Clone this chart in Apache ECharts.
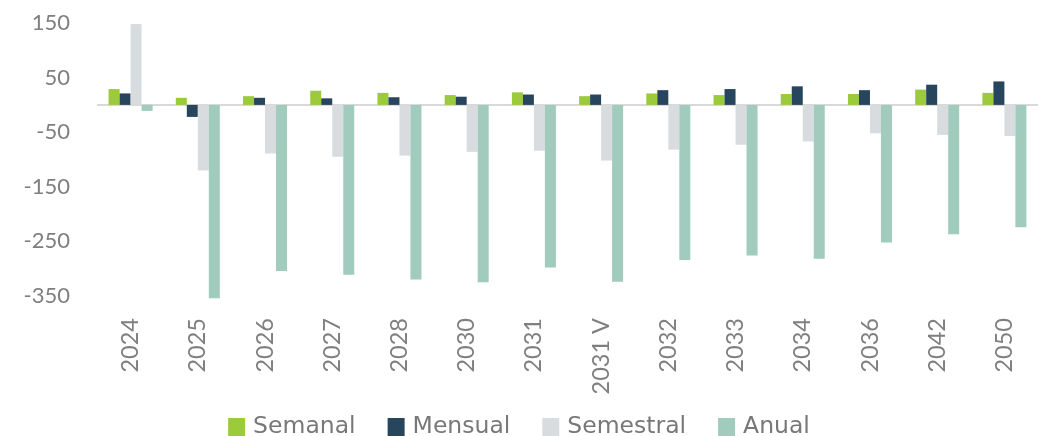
<!DOCTYPE html>
<html>
<head>
<meta charset="utf-8">
<script src="https://cdn.jsdelivr.net/npm/echarts@6/dist/echarts.min.js"></script>
<style>html,body{margin:0;padding:0;background:#fff}#c{width:1038px;height:436px}</style>
</head>
<body>
<div id="c"></div>
<script>
const categories = ["2024","2025","2026","2027","2028","2030","2031","2031 V","2032","2033","2034","2036","2042","2050"];
const semanal   = [29, 13, 16, 26, 22, 18, 23, 16, 21, 18, 20, 20, 28, 22];
const mensual   = [21, -22, 13, 12, 14, 15, 19, 19, 27, 29, 34, 27, 37, 43];
const semestral = [148, -120, -89, -95, -93, -86, -84, -102, -82, -73, -67, -52, -55, -57];
const anual     = [-11, -354, -304, -311, -320, -325, -298, -324, -284, -276, -282, -252, -237, -224];
const seriesNames = ["Semanal","Mensual","Semestral","Anual"];
const colors = ["#9BCA3A","#27455C","#D9DCDF","#A0CBBD"];

const font = "Lato, 'Open Sans', sans-serif";
const legendFont = "'DejaVu Sans', sans-serif";
const chart = echarts.init(document.getElementById('c'));
const mk = (name, data, i) => ({
  name, type: 'bar', data, barWidth: 11, barGap: '0%', clip: false,
  itemStyle: { color: colors[i] },
  markLine: i === 0 ? {
    silent: true, symbol: 'none', label: { show: false },
    lineStyle: { color: '#D9D9D9', width: 2, type: 'solid' },
    data: [{ yAxis: 0 }], z: 1
  } : undefined
});
chart.setOption({
  animation: false,
  grid: { left: 97, top: 23, bottom: 140, width: 952 },
  legend: {
    top: 415, left: 'center', itemWidth: 17, itemHeight: 18, itemGap: 32, padding: 0,
    icon: 'rect',
    textStyle: { color: '#787878', fontSize: 23.5, fontFamily: legendFont, padding: [0, 0, 0, 3] },
    data: seriesNames
  },
  xAxis: {
    type: 'category', data: categories,
    axisLine: { show: false }, axisTick: { show: false },
    axisLabel: { rotate: 90, color: '#7F7F7F', fontSize: 23.5, fontFamily: font, margin: 22 }
  },
  yAxis: {
    type: 'value', min: -350, max: 150, interval: 100,
    splitLine: { show: false }, axisLine: { show: false }, axisTick: { show: false },
    axisLabel: { color: '#7F7F7F', fontSize: 22, fontFamily: font, margin: 27 }
  },
  series: [mk(seriesNames[0], semanal, 0), mk(seriesNames[1], mensual, 1), mk(seriesNames[2], semestral, 2), mk(seriesNames[3], anual, 3)]
});
</script>
</body>
</html>
